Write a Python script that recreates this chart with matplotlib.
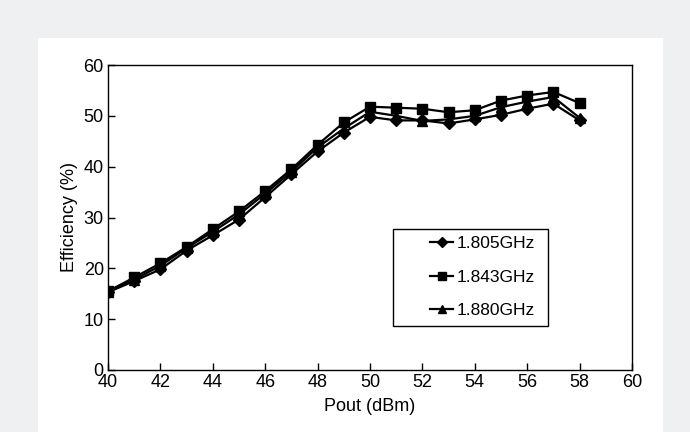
import matplotlib
matplotlib.use("Agg")
import matplotlib.pyplot as plt
from matplotlib.patches import Rectangle

plt.rcParams['font.family'] = ['Liberation Sans', 'DejaVu Sans']

pout = [40, 41, 42, 43, 44, 45, 46, 47, 48, 49, 50, 51, 52, 53, 54, 55, 56, 57, 58]
eff_1805 = [15.3, 17.5, 19.8, 23.5, 26.5, 29.6, 34.0, 38.5, 43.0, 46.7, 49.8, 49.1, 49.1, 48.5, 49.3, 50.2, 51.4, 52.4, 49.1]
eff_1843 = [15.5, 18.2, 21.0, 24.2, 27.7, 31.2, 35.2, 39.5, 44.3, 48.7, 51.8, 51.6, 51.4, 50.7, 51.1, 53.0, 54.0, 54.7, 52.5]
eff_1880 = [15.3, 17.8, 20.5, 24.0, 27.2, 30.6, 34.7, 39.0, 43.8, 47.5, 50.8, 50.0, 49.0, 49.3, 50.0, 51.7, 52.8, 53.7, 49.6]
labels = ['1.805GHz', '1.843GHz', '1.880GHz']

fig = plt.figure(figsize=(6.9, 4.32), dpi=100)
fig.patch.set_facecolor('#eff0f2')

# white card behind the chart
card = fig.add_axes([38 / 690, 0, (663 - 38) / 690, (432 - 38) / 432], zorder=-1)
card.set_facecolor('white')
card.set_xticks([])
card.set_yticks([])
for s in card.spines.values():
    s.set_visible(False)

ax = fig.add_axes([108 / 690, (432 - 370) / 432, (632 - 108) / 690, (370 - 65) / 432], zorder=1)
ax.set_facecolor('white')

ax.plot(pout, eff_1805, color='black', lw=1.6, marker='D', ms=6.5, label=labels[0])
ax.plot(pout, eff_1843, color='black', lw=1.6, marker='s', ms=7.5, label=labels[1])
ax.plot(pout, eff_1880, color='black', lw=1.6, marker='^', ms=7.5, label=labels[2])

ax.set_xlim(40, 60)
ax.set_ylim(0, 60)
ax.set_xticks(range(40, 61, 2))
ax.set_yticks(range(0, 61, 10))
ax.tick_params(direction='in', length=5, width=1, labelsize=13, colors='black', pad=3)
for s in ax.spines.values():
    s.set_linewidth(1.0)
    s.set_color('black')

ax.set_xlabel('Pout (dBm)', fontsize=13, labelpad=5)
ax.set_ylabel('Efficiency (%)', fontsize=13, labelpad=4)

# legend box drawn separately so the entries can sit off-centre inside it
ax.add_patch(Rectangle((0.544, 0.144), 0.296, 0.318, transform=ax.transAxes,
                       facecolor='white', edgecolor='black', lw=1.0, zorder=4))
leg = ax.legend(loc='upper left', bbox_to_anchor=(0.6145, 0.440),
                fontsize=12.5, frameon=False, handlelength=1.35,
                handletextpad=0.2, borderpad=0.0, borderaxespad=0.0,
                labelspacing=1.07, markerscale=0.8)
leg.set_zorder(5)

fig.savefig('out.png', dpi=100, facecolor=fig.get_facecolor())
